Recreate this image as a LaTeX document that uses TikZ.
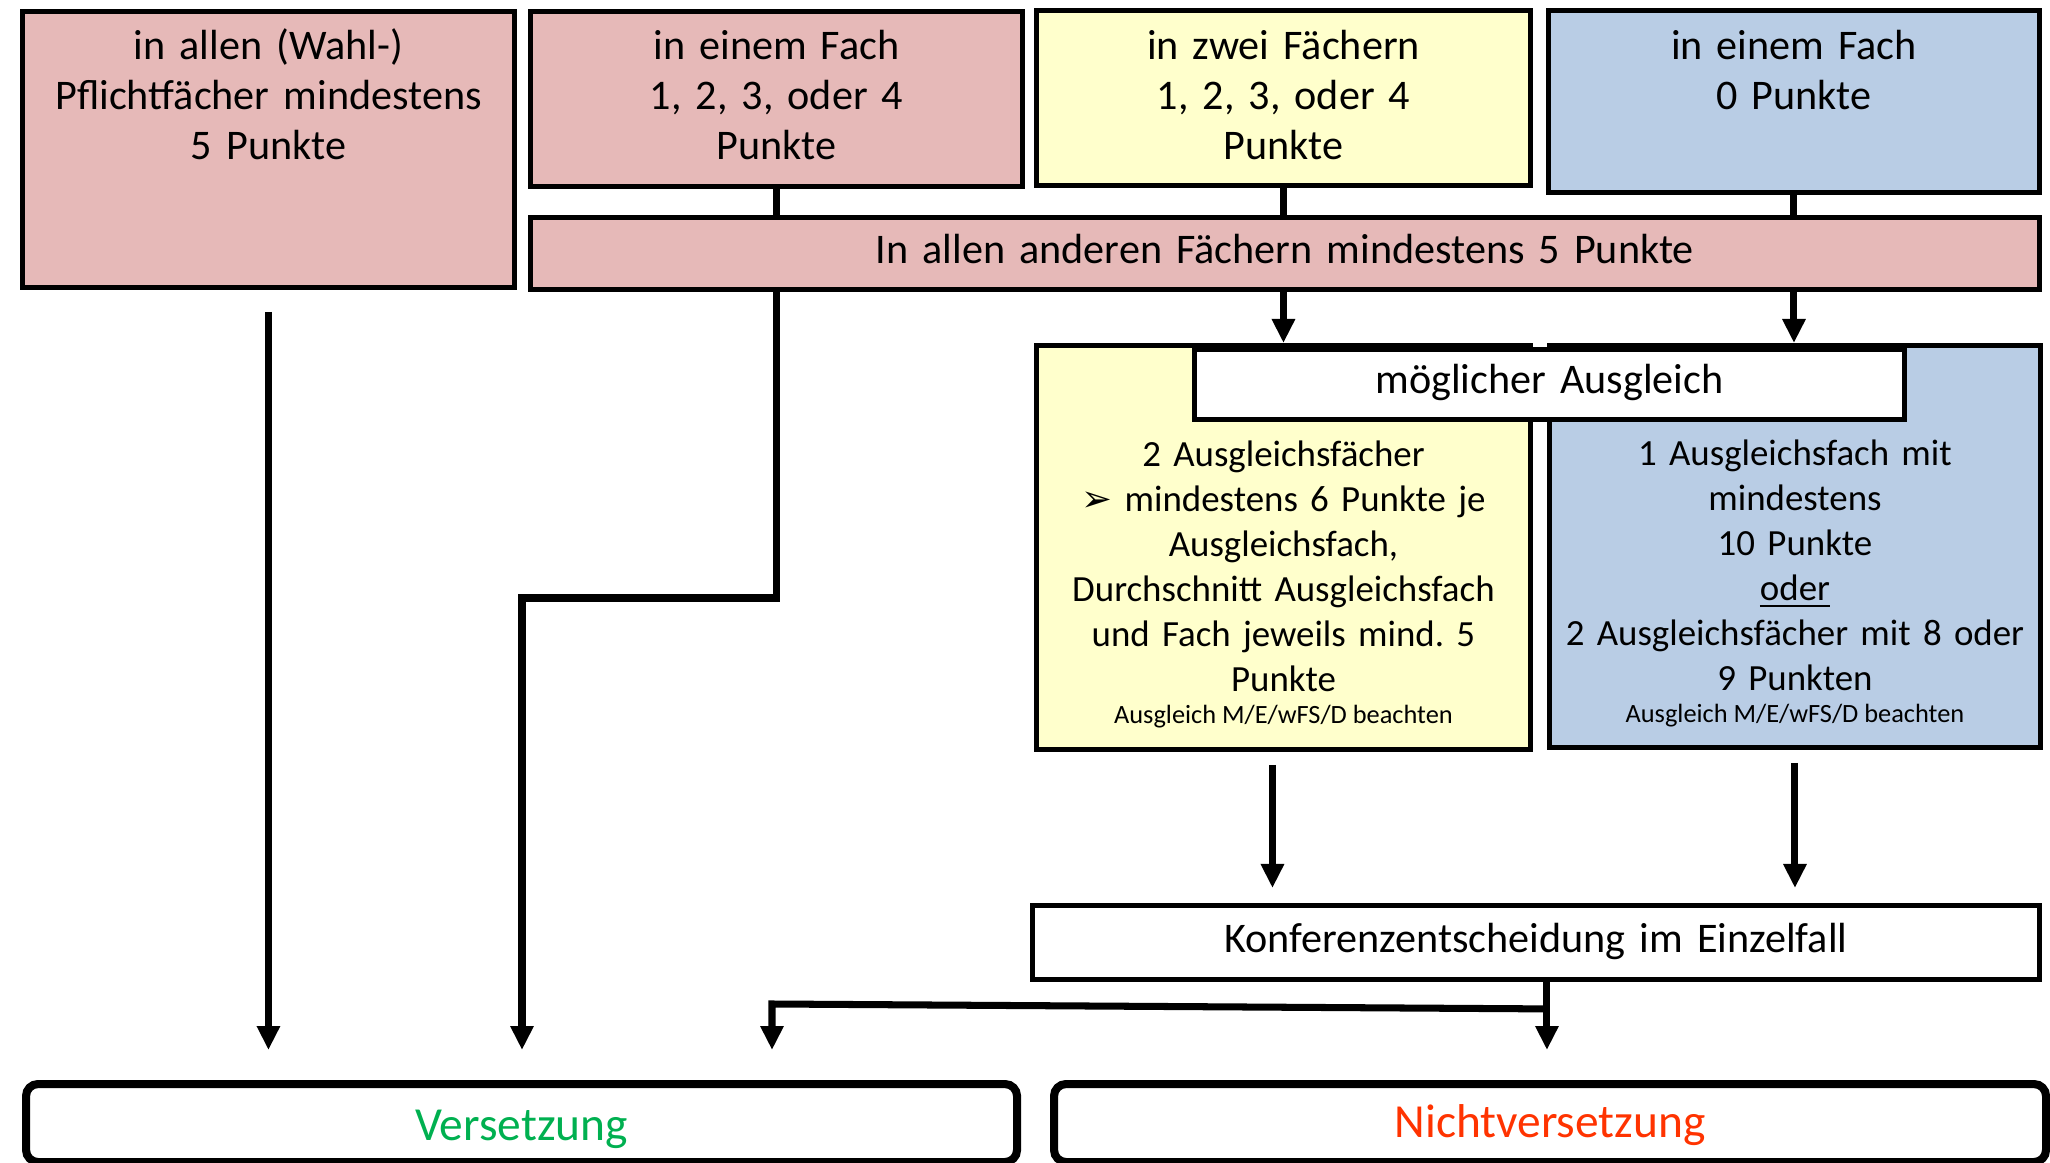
\documentclass[tikz,border=0pt]{standalone}
\usepackage{fontspec}
\setmainfont{Carlito}
\newfontfamily\symbolfont{DejaVu Sans}
\usetikzlibrary{arrows.meta}
\frenchspacing

\definecolor{rosa}{HTML}{E6B9B8}
\definecolor{gelb}{HTML}{FFFFCC}
\definecolor{blau}{HTML}{B9CDE5}
\definecolor{gruen}{HTML}{00B050}
\definecolor{rot}{HTML}{FF3300}

\begin{document}
\begin{tikzpicture}[x=0.1mm,y=-0.1mm,>={Triangle[length=2.4mm,width=2.2mm]},
        kasten/.style={draw, line width=1.4pt, anchor=north west, inner sep=0pt},
        ergebnis/.style={draw, line width=2.3pt, rounded corners=1.2mm, anchor=north west, inner sep=0pt},
        txt/.style={anchor=base, align=center, text width=49mm, inner sep=0pt, font=\fontsize{12}{14.2}\selectfont},
        txtklein/.style={anchor=base, align=center, text width=49mm, inner sep=0pt, font=\fontsize{10.5}{12.8}\selectfont},
        hinweis/.style={anchor=base, inner sep=0pt, font=\fontsize{7.5}{9}\selectfont},
        linie/.style={line width=2pt}]
        \useasboundingbox (0,0) rectangle (2050,1163);
        \coordinate (ziel) at (0,1050);
        \coordinate (knick) at (522,598);

        % Top boxes
        \node[kasten, fill=rosa, minimum width=49.2mm, minimum height=27.6mm] (allen) at (20,9) {};
        \node[kasten, fill=rosa, minimum width=49.2mm, minimum height=17.5mm] (einFach) at (528,9) {};
        \node[kasten, fill=gelb, minimum width=49.4mm, minimum height=17.5mm] (zwei) at (1034,8) {};
        \node[kasten, fill=blau, minimum width=49.1mm, minimum height=18.2mm] (null) at (1546,8) {};
        \node[kasten, fill=rosa, minimum width=150.9mm, minimum height=7.2mm] (andere) at (528,215) {};

        \node[txt] (allenT) at (allen.north |- 0,60) {in allen (Wahl-)\\Pflichtfächer mindestens\\5 Punkte};
        \node[txt] (einFachT) at (einFach.north |- 0,60) {in einem Fach\\1, 2, 3, oder 4\\Punkte};
        \node[txt] (zweiT) at (zwei.north |- 0,60) {in zwei Fächern\\1, 2, 3, oder 4\\Punkte};
        \node[txt] (nullT) at (null.north |- 0,60) {in einem Fach\\0 Punkte};
        \node[txt, text width=140mm] (andereT) at (andere.north |- 0,264) {In allen anderen Fächern mindestens 5 Punkte};

        % Compensation
        \node[kasten, fill=gelb, minimum width=49.4mm, minimum height=40.4mm] (ausglZwei) at (1034,343) {};
        \node[kasten, fill=blau, minimum width=49.1mm, minimum height=40.2mm] (ausglNull) at (1547,343) {};
        \node[kasten, fill=white, minimum width=71mm, minimum height=7mm] (moeglich) at (1192,347) {};
        \node[txt] (moeglichT) at (moeglich.north |- 0,394) {möglicher Ausgleich};

        \node[txtklein] (ausglZweiT) at (ausglZwei.north |- 0,467) {2 Ausgleichsfächer\\{\symbolfont ➢} mindestens 6 Punkte je\\Ausgleichsfach,\\Durchschnitt Ausgleichsfach\\und Fach jeweils mind. 5\\Punkte};
        \node[hinweis] (ausglZweiH) at (ausglZwei.north |- 0,724) {Ausgleich M/E/wFS/D beachten};
        \node[txtklein] (ausglNullT) at (ausglNull.north |- 0,466) {1 Ausgleichsfach mit\\mindestens\\10 Punkte\\\underline{oder}\\2 Ausgleichsfächer mit 8 oder\\9 Punkten};
        \node[hinweis] (ausglNullH) at (ausglNull.north |- 0,723) {Ausgleich M/E/wFS/D beachten};

        % Conference
        \node[kasten, fill=white, minimum width=100.7mm, minimum height=7.4mm] (konferenz) at (1030,903) {};
        \node[txt, text width=90mm] (konferenzT) at (konferenz.north |- 0,952) {Konferenzentscheidung im Einzelfall};

        % Results
        \node[ergebnis, minimum width=99.1mm, minimum height=7.8mm] (versetzung) at (22,1080) {};
        \node[ergebnis, minimum width=99.2mm, minimum height=7.8mm] (nicht) at (1050,1080) {};
        \node[anchor=base, inner sep=0pt, text=gruen, font=\fontsize{13.5}{16}\selectfont] (versetzungT) at (versetzung.north |- 0,1140) {Versetzung};
        \node[anchor=base, inner sep=0pt, text=rot, font=\fontsize{13.5}{16}\selectfont] (nichtT) at (nicht.north |- 0,1137) {Nichtversetzung};

        % Connectors
        \draw[linie] (einFach.south) -- (einFach.south |- andere.north);
        \draw[linie] (zwei.south) -- (zwei.south |- andere.north);
        \draw[linie] (null.south) -- (null.south |- andere.north);
        \draw[linie,->] (zwei.south |- andere.south) -- (zwei.south |- ausglZwei.north);
        \draw[linie,->] (null.south |- andere.south) -- (null.south |- ausglNull.north);

        \draw[linie,->] ([yshift=-2.2mm]allen.south) -- (allen.south |- ziel);
        \draw[linie,->] (einFach.south |- andere.south) -- (einFach.south |- knick) -- (knick) -- (knick |- ziel);

        \coordinate (vonZwei) at ([xshift=-1.1mm,yshift=-1.3mm]ausglZwei.south);
        \coordinate (vonNull) at ([yshift=-1.3mm]ausglNull.south);
        \draw[linie,->] (vonZwei) -- ([yshift=1.5mm]vonZwei |- konferenz.north);
        \draw[linie,->] (vonNull) -- ([yshift=1.5mm]vonNull |- konferenz.north);

        \coordinate (gabel) at ([xshift=1.1mm,yshift=-2.7mm]konferenz.south);
        \coordinate (links) at (772,1004);
        \draw[linie,->] ([xshift=1.1mm]konferenz.south) -- (gabel |- ziel);
        \draw[linie,->] (gabel) -- (links) -- (links |- ziel);
    \end{tikzpicture}
\end{document}
